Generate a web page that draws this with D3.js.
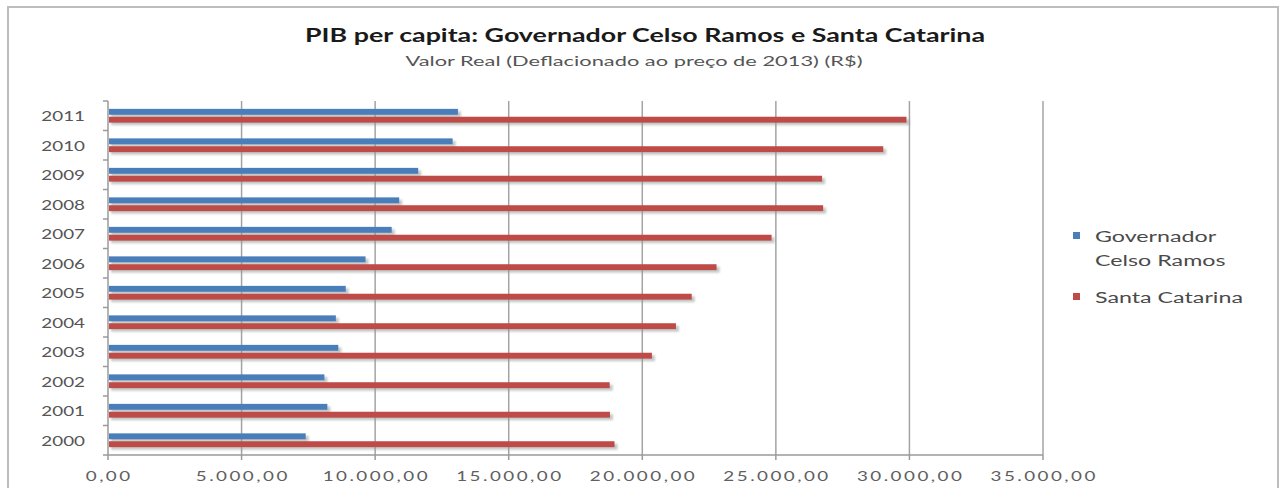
<!DOCTYPE html>
<html>
<head>
<meta charset="utf-8">
<script src="https://cdn.jsdelivr.net/npm/d3@7"></script>
<style>
  html, body { margin: 0; padding: 0; background: #fff; }
  svg { display: block; }
</style>
</head>
<body>
<svg id="chart" width="1285" height="488"></svg>
<script>
// PIB per capita, valor real a preços de 2013 (R$)
const years = [2000, 2001, 2002, 2003, 2004, 2005, 2006, 2007, 2008, 2009, 2010, 2011];
const governadorCelsoRamos = [7400, 8210, 8100, 8620, 8530, 8900, 9640, 10620, 10900, 11610, 12900, 13100];
const santaCatarina = [18960, 18790, 18780, 20360, 21260, 21850, 22780, 24840, 26770, 26730, 29020, 29890];
const seriesNames = ["Governador Celso Ramos", "Santa Catarina"];
const legendLines = [["Governador", "Celso Ramos"], ["Santa Catarina"]];
const xTicks = [0, 5000, 10000, 15000, 20000, 25000, 30000, 35000];
const titleText = "PIB per capita: Governador Celso Ramos e Santa Catarina";
const subtitleText = "Valor Real (Deflacionado ao preço de 2013) (R$)";

const colors = { "Governador Celso Ramos": "#4a7ebb", "Santa Catarina": "#be4b48" };
const SX = 1.45;              // horizontal stretch applied to label text
const FONT = "Lato, 'Open Sans', sans-serif";

const rows = years.map((y, i) => ({
  year: y,
  values: [
    { name: seriesNames[0], value: governadorCelsoRamos[i] },
    { name: seriesNames[1], value: santaCatarina[i] }
  ]
}));

const svg = d3.select("#chart");

// outer chart frame
svg.append("rect")
  .attr("x", 8).attr("y", 7).attr("width", 1270).attr("height", 500)
  .attr("fill", "#fff").attr("stroke", "#bdbdbd").attr("stroke-width", 2);

const plot = { left: 108, right: 1043, top: 101, bottom: 455 };

const x = d3.scaleLinear().domain([0, 35000]).range([plot.left, plot.right]);
const y = d3.scaleBand().domain(years.slice().reverse()).range([plot.top, plot.bottom]);
const ySeries = d3.scaleBand().domain(seriesNames).range([0, y.bandwidth()])
  .paddingInner(0.25).paddingOuter(1.0);

const ptBR = d3.formatLocale({ decimal: ",", thousands: ".", grouping: [3], currency: ["R$", ""] });
const fmt = ptBR.format(",.2f");

// blur used for the bar drop shadows
const defs = svg.append("defs");
defs.append("filter").attr("id", "soft").attr("x", "-5%").attr("y", "-100%")
  .attr("width", "110%").attr("height", "300%")
  .append("feGaussianBlur").attr("stdDeviation", 0.9);

// vertical gridlines
svg.append("g").selectAll("line")
  .data(xTicks.filter(d => d > 0))
  .join("line")
  .attr("x1", d => x(d)).attr("x2", d => x(d))
  .attr("y1", plot.top).attr("y2", plot.bottom)
  .attr("stroke", "#a3a3a3").attr("stroke-width", 1.5);

// bars
const groups = svg.append("g").selectAll("g")
  .data(rows)
  .join("g")
  .attr("transform", d => `translate(0,${y(d.year)})`);

groups.selectAll("rect.shadow")
  .data(d => d.values)
  .join("rect")
  .attr("class", "shadow")
  .attr("x", x(0) + 3)
  .attr("y", d => ySeries(d.name) + 2.5)
  .attr("width", d => x(d.value) - x(0))
  .attr("height", ySeries.bandwidth())
  .attr("fill", "#8f9a94").attr("opacity", 0.55)
  .attr("filter", "url(#soft)");

groups.selectAll("rect.bar")
  .data(d => d.values)
  .join("rect")
  .attr("class", "bar")
  .attr("x", x(0) + 1)
  .attr("y", d => ySeries(d.name))
  .attr("width", d => x(d.value) - x(0) - 1)
  .attr("height", ySeries.bandwidth())
  .attr("fill", d => colors[d.name]);

// stretched text helper
function label(sel, txt, tx, ty, opts) {
  return sel.append("text")
    .attr("transform", `translate(${tx},${ty}) scale(${opts.sx || SX},1)`)
    .attr("text-anchor", opts.anchor || "start")
    .attr("font-family", FONT)
    .attr("font-size", opts.size)
    .attr("font-weight", opts.weight || "normal")
    .attr("letter-spacing", opts.spacing || 0)
    .attr("fill", opts.fill || "#555")
    .text(txt);
}

// x axis
const xAxis = svg.append("g");
xAxis.append("line")
  .attr("x1", x(0)).attr("x2", x(35000))
  .attr("y1", plot.bottom).attr("y2", plot.bottom)
  .attr("stroke", "#9a9a9a").attr("stroke-width", 1.5);
xAxis.selectAll("line.tick")
  .data(xTicks).join("line").attr("class", "tick")
  .attr("x1", d => x(d)).attr("x2", d => x(d))
  .attr("y1", plot.bottom).attr("y2", plot.bottom + 5)
  .attr("stroke", "#9a9a9a").attr("stroke-width", 1.5);
xTicks.forEach(t => label(xAxis, fmt(t), x(t) + 1.2, plot.bottom + 26,
  { size: 13, anchor: "middle", spacing: 1.7, fill: "#606060" }));

// y axis
const yAxis = svg.append("g");
yAxis.append("line")
  .attr("x1", x(0)).attr("x2", x(0))
  .attr("y1", plot.top).attr("y2", plot.bottom)
  .attr("stroke", "#9a9a9a").attr("stroke-width", 1.5);
yAxis.selectAll("line.tick")
  .data(years.map(d => y(d)).concat([plot.bottom]))
  .join("line").attr("class", "tick")
  .attr("x1", x(0) - 5).attr("x2", x(0))
  .attr("y1", d => d).attr("y2", d => d)
  .attr("stroke", "#9a9a9a").attr("stroke-width", 1.5);
years.forEach(yr => label(yAxis, String(yr), 85, y(yr) + y.bandwidth() / 2 + 5.5,
  { size: 13, anchor: "end", fill: "#555" }));

// titles
svg.append("text")
  .attr("x", 645).attr("y", 42)
  .attr("text-anchor", "middle")
  .attr("font-family", FONT).attr("font-weight", "bold").attr("font-size", 19)
  .attr("fill", "#1a1a1a")
  .attr("textLength", 680).attr("lengthAdjust", "spacingAndGlyphs")
  .text(titleText);
svg.append("text")
  .attr("x", 634).attr("y", 66)
  .attr("text-anchor", "middle")
  .attr("font-family", FONT).attr("font-size", 13)
  .attr("fill", "#555")
  .attr("textLength", 457).attr("lengthAdjust", "spacingAndGlyphs")
  .text(subtitleText);

// legend
const legend = svg.append("g");
const legendRows = [
  { name: seriesNames[0], lines: legendLines[0], top: 236 },
  { name: seriesNames[1], lines: legendLines[1], top: 297 }
];
legendRows.forEach(r => {
  legend.append("rect")
    .attr("x", 1073).attr("y", r.top - 4).attr("width", 7).attr("height", 7)
    .attr("fill", colors[r.name]);
  r.lines.forEach((ln, i) =>
    label(legend, ln, 1095, r.top + 5.5 + i * 24, { size: 15, sx: 1.55, fill: "#4a4a4a" }));
});
</script>
</body>
</html>
